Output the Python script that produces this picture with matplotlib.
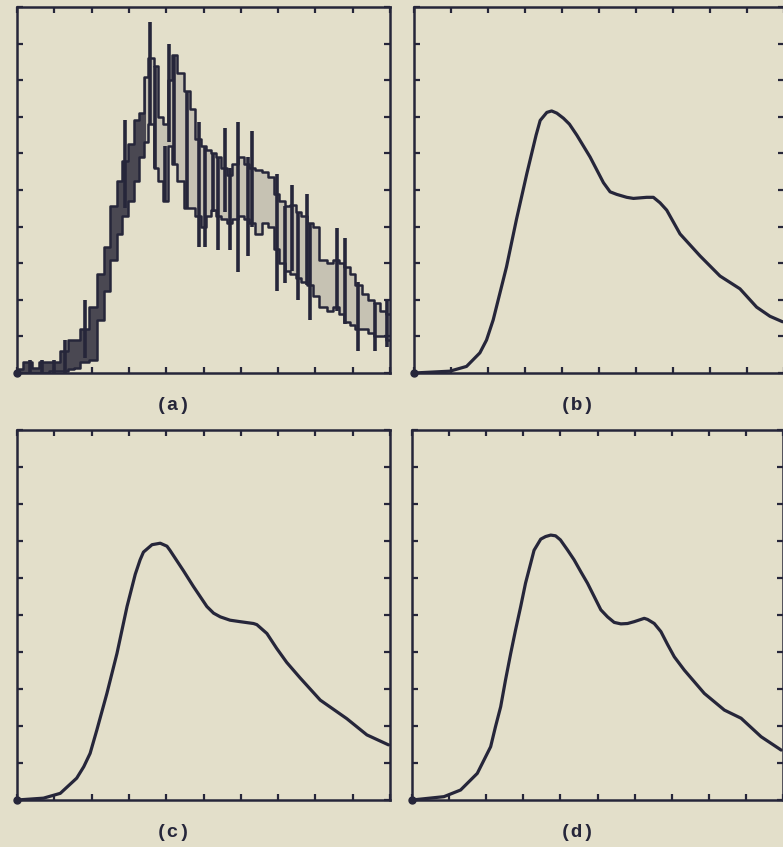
import numpy as np
import matplotlib.pyplot as plt

# ---- panel (a): raw noisy spectrum (band envelope + spikes) ----
a_x = [0.0, 0.3, 0.5, 0.7, 1.0, 1.3, 1.45, 1.6, 1.8, 2.05, 2.25, 2.4, 2.6,
       2.75, 2.9, 3.05, 3.2, 3.35, 3.45, 3.6, 3.72, 3.85, 3.98, 4.1, 4.2,
       4.38, 4.55, 4.7, 4.85, 5.0, 5.15, 5.26, 5.4, 5.55, 5.7, 5.85, 6.0,
       6.15, 6.3, 6.47, 6.65, 6.83, 6.96, 7.1, 7.25, 7.4, 7.55, 7.7, 7.85,
       8.0, 8.2, 8.4, 8.55, 8.7, 8.85, 9.0, 9.15, 9.33, 9.5, 9.65, 9.8, 10.0]
a_hi = [0.1, 0.3, 0.15, 0.3, 0.3, 0.6, 0.9, 0.9, 1.2, 1.8, 2.7, 3.45, 4.55,
        5.25, 5.8, 6.25, 6.9, 7.1, 8.1, 8.6, 8.4, 7.0, 6.8, 8.0, 8.7,
        8.2, 7.7, 7.2, 6.4, 6.2, 6.1, 6.0, 5.9, 5.6, 5.4, 5.7, 5.9,
        5.7, 5.6, 5.55, 5.5, 5.35, 4.9, 4.7, 4.55, 4.6, 4.4, 4.3, 4.1,
        4.0, 3.1, 3.0, 3.1, 3.0, 2.9, 2.7, 2.4, 2.15, 2.0, 1.9, 1.7, 1.6]
a_lo = [0.0, 0.0, 0.0, 0.0, 0.05, 0.05, 0.1, 0.15, 0.3, 0.35, 1.45, 2.25, 3.1,
        3.8, 4.3, 4.7, 5.25, 5.9, 6.3, 6.8, 5.6, 5.25, 4.7, 6.2, 5.7,
        5.25, 4.5, 4.5, 4.3, 4.0, 4.3, 4.45, 4.3, 4.2, 4.1, 4.2, 4.3,
        4.2, 4.1, 3.8, 4.1, 4.0, 3.4, 3.0, 2.8, 2.7, 2.6, 2.5, 2.4,
        2.1, 1.8, 1.7, 1.8, 1.6, 1.4, 1.3, 1.2, 1.2, 1.1, 1.0, 1.0, 0.9]
spike_x = [0.36, 0.67, 0.98, 1.3, 1.83, 2.9, 3.57, 3.7, 3.98, 4.07, 4.2, 4.56,
           4.87, 5.04, 5.26, 5.4, 5.58, 5.71, 5.93, 6.2, 6.29, 6.96, 7.19,
           7.36, 7.54, 7.77, 7.85, 8.57, 8.79, 9.15, 9.6, 9.91]
spike_top = [0.35, 0.35, 0.35, 0.9, 2.0, 6.9, 9.6, 8.4, 6.2, 9.0, 8.7, 7.7,
             6.85, 6.2, 6.0, 5.9, 6.7, 5.6, 6.85, 5.9, 6.6, 5.45, 4.55,
             5.15, 4.4, 4.9, 4.1, 3.95, 3.7, 2.5, 1.9, 2.0]
spike_bot = [0.0, 0.0, 0.0, 0.0, 0.4, 4.5, 6.8, 5.6, 4.7, 6.3, 5.7, 4.5,
             3.45, 3.45, 4.4, 3.35, 4.4, 3.35, 2.75, 3.2, 4.0, 2.25, 2.45,
             2.8, 2.0, 2.4, 1.45, 1.7, 1.35, 0.6, 0.6, 0.7]

# ---- panels (b), (c), (d): smoothed spectra ----
b_x = [0, 0.97, 1.42, 1.78, 1.96, 2.14, 2.5, 2.77, 3.05, 3.3, 3.41, 3.59,
       3.72, 3.86, 4.04, 4.2, 4.4, 4.58, 4.76, 4.94, 5.12, 5.3, 5.48, 5.75,
       5.93, 6.29, 6.47, 6.65, 6.83, 7.19, 7.46, 7.73, 8.27, 8.81, 9.26, 9.62,
       9.96]
b_y = [0, 0.05, 0.18, 0.55, 0.9, 1.45, 2.9, 4.2, 5.45, 6.5, 6.9, 7.12,
       7.16, 7.1, 6.96, 6.8, 6.5, 6.2, 5.9, 5.55, 5.2, 4.95, 4.88, 4.8,
       4.77, 4.8, 4.8, 4.65, 4.45, 3.8, 3.5, 3.2, 2.65, 2.3, 1.8, 1.55, 1.4]

c_x = [0, 0.71, 1.16, 1.6, 1.79, 1.96, 2.14, 2.41, 2.68, 2.95, 3.17, 3.3,
       3.39, 3.62, 3.84, 4.02, 4.1, 4.46, 4.73, 4.91, 5.09, 5.27, 5.45, 5.71,
       5.98, 6.34, 6.43, 6.7, 6.96, 7.23, 7.41, 7.59, 8.13, 8.84, 9.38, 9.96]
c_y = [0, 0.05, 0.18, 0.59, 0.9, 1.26, 1.89, 2.88, 3.96, 5.23, 6.1, 6.49,
       6.7, 6.9, 6.94, 6.86, 6.75, 6.2, 5.77, 5.5, 5.23, 5.05, 4.95, 4.86,
       4.82, 4.77, 4.74, 4.5, 4.1, 3.72, 3.51, 3.3, 2.7, 2.2, 1.76, 1.49]

d_x = [0, 0.86, 1.31, 1.76, 1.94, 2.12, 2.25, 2.39, 2.52, 2.66, 2.79, 2.93,
       3.06, 3.2, 3.29, 3.47, 3.6, 3.74, 3.87, 4.0, 4.19, 4.37, 4.55, 4.73,
       4.91, 5.09, 5.27, 5.45, 5.63, 5.81, 5.99, 6.26, 6.35, 6.53, 6.71, 6.89,
       7.07, 7.34, 7.88, 8.42, 8.87, 9.41, 9.95]
d_y = [0, 0.09, 0.27, 0.72, 1.08, 1.44, 1.98, 2.52, 3.24, 3.96, 4.59, 5.23,
       5.86, 6.4, 6.75, 7.05, 7.12, 7.16, 7.14, 7.03, 6.76, 6.49, 6.17, 5.86,
       5.5, 5.14, 4.95, 4.8, 4.76, 4.77, 4.82, 4.91, 4.88, 4.77, 4.55, 4.2,
       3.87, 3.51, 2.88, 2.43, 2.21, 1.71, 1.35]

labels = ['(a)', '(b)', '(c)', '(d)']

paper = '#e3dfca'
ink = '#26263a'

W, H = 783, 847
fig = plt.figure(figsize=(W / 100, H / 100), dpi=100, facecolor=paper)

# axes boxes in pixels: left, top, right, bottom
boxes = [(17, 7, 390, 373), (414, 7, 784, 373),
         (17, 430, 390, 800), (412, 430, 783, 800)]
label_pos = [(173, 405), (577, 405), (173, 832), (577, 832)]


def make_ax(box):
    l, t, r, b = box
    ax = fig.add_axes([l / W, 1 - b / H, (r - l) / W, (b - t) / H])
    ax.set_facecolor(paper)
    ax.set_xlim(0, 10)
    ax.set_ylim(0, 10)
    ax.set_xticks(np.arange(0, 11))
    ax.set_yticks(np.arange(0, 11))
    ax.tick_params(direction='in', length=4, width=1.6, color=ink,
                   top=True, right=True, labelbottom=False, labelleft=False)
    for s in ax.spines.values():
        s.set_color(ink)
        s.set_linewidth(1.8)
    return ax


axs = [make_ax(b) for b in boxes]

# panel (a): dark on the rising edge, pale grey inside the noisy plateau
ax = axs[0]
ax_x = np.array(a_x)
ax.fill_between(a_x, a_lo, a_hi, step='mid', color='#c6c2b3', lw=0)
ax.fill_between(a_x, a_lo, a_hi, where=ax_x <= 3.5, step='mid',
                color='#4a4852', lw=0)
ax.step(a_x, a_hi, where='mid', color=ink, lw=1.8)
ax.step(a_x, a_lo, where='mid', color=ink, lw=1.8)
ax.vlines(spike_x, spike_bot, spike_top, color=ink, lw=2.6)

# smooth panels
for ax, xs, ys in zip(axs[1:], [b_x, c_x, d_x], [b_y, c_y, d_y]):
    ax.plot(xs, ys, color=ink, lw=2.3, solid_joinstyle='round',
            solid_capstyle='round')

for ax in axs:
    ax.plot([0], [0], 'o', color=ink, ms=5, clip_on=False)

for lab, (px, py) in zip(labels, label_pos):
    fig.text(px / W, 1 - py / H, lab, ha='center', va='center',
             family='Liberation Mono', weight='bold', fontsize=14, color=ink)

fig.savefig('out.png', dpi=100, facecolor=paper)
